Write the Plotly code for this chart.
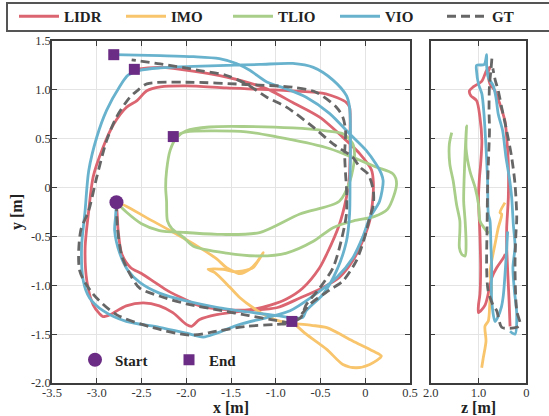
import plotly.graph_objects as go

# ---------------- data: top view (x, y) ----------------
lidr_x = [-2.78, -2.77, -2.76, -2.72, -2.62, -2.50, -2.35, -2.20, -2.00, -1.85, -1.55, -1.29, -1.05, -0.88,
          -0.70, -0.51, -0.43, -0.29, -0.21, -0.18, -0.17, -0.17, -0.175, -0.21, -0.44, -0.81, -1.55, -2.00,
          -2.29, -2.44, -2.55, -2.67, -2.81, -2.93, -3.04, -3.09, -3.13, -3.11, -3.04, -2.97, -2.93, -2.85,
          -2.67, -2.48, -2.30, -2.15, -2.00, -1.94, -1.85, -1.66, -1.33, -0.99, -0.73, -0.51, -0.29, -0.14,
          -0.03, 0.05, 0.086, 0.09, 0.07, -0.06, -0.21, -0.51, -0.81, -1.10, -1.55, -2.29, -2.58]
lidr_y = [-0.15, -0.30, -0.45, -0.68, -0.82, -0.88, -0.97, -1.06, -1.15, -1.21, -1.25, -1.25, -1.20, -1.14,
          -1.03, -0.82, -0.68, -0.38, -0.10, 0.07, 0.30, 0.55, 0.82, 0.87, 0.96, 0.99, 1.02, 1.04,
          1.03, 0.99, 0.89, 0.82, 0.65, 0.41, 0.11, -0.24, -0.62, -0.96, -1.20, -1.29, -1.32, -1.30,
          -1.21, -1.18, -1.21, -1.28, -1.40, -1.42, -1.35, -1.30, -1.26, -1.23, -1.13, -1.04, -0.92, -0.75,
          -0.55, -0.34, -0.10, 0.06, 0.18, 0.345, 0.48, 0.72, 0.87, 1.01, 1.13, 1.23, 1.21]

imo_x = [-2.78, -2.67, -2.44, -2.18, -1.85, -1.66, -1.55, -1.44, -1.40, -1.29, -1.215, -1.14, -1.197, -1.253,
         -1.365, -1.477, -1.588, -1.756, -1.68, -1.513, -1.40, -1.253, -1.104, -0.955, -0.80, -0.60, -0.43,
         -0.14, 0.086, 0.18, 0.05, -0.10, -0.25, -0.43, -0.66, -0.76, -0.82]
imo_y = [-0.15, -0.19, -0.31, -0.44, -0.615, -0.73, -0.82, -0.87, -0.88, -0.836, -0.768, -0.666, -0.751, -0.82,
         -0.853, -0.86, -0.836, -0.836, -0.871, -1.02, -1.127, -1.23, -1.314, -1.366, -1.39, -1.41, -1.434,
         -1.57, -1.673, -1.724, -1.81, -1.844, -1.81, -1.656, -1.50, -1.42, -1.37]

tlio_x = [-2.78, -2.67, -2.50, -2.30, -2.00, -1.60, -1.18, -0.73, -0.29, -0.17, -0.12, -0.14, -0.25, -0.44,
          -0.81, -1.36, -1.74, -2.00, -2.11, -2.18, -2.22, -2.23, -2.22, -2.21, -2.16, -2.03, -1.92, -1.55,
          -1.18, -0.88, -0.58, -0.36, -0.13, 0.09, 0.25, 0.35, 0.31, 0.12, -0.06, -0.25, -0.44, -0.66,
          -0.99, -1.33, -1.70, -2.00, -2.145]
tlio_y = [-0.15, -0.25, -0.37, -0.44, -0.46, -0.48, -0.46, -0.27, -0.14, 0.07, 0.31, 0.45, 0.55, 0.58,
          0.61, 0.625, 0.62, 0.58, 0.51, 0.38, 0.17, 0.0, -0.14, -0.34, -0.42, -0.51, -0.60, -0.67,
          -0.70, -0.67, -0.55, -0.41, -0.34, -0.30, -0.22, 0.04, 0.14, 0.21, 0.28, 0.35, 0.41, 0.46,
          0.52, 0.57, 0.58, 0.57, 0.522]

vio_x = [-2.78, -2.79, -2.80, -2.74, -2.65, -2.52, -2.30, -2.00, -1.63, -1.25, -0.99, -0.70, -0.66, -0.47,
         -0.32, -0.21, -0.175, -0.17, -0.165, -0.175, -0.21, -0.36, -0.58, -0.81, -1.18, -1.55, -1.92, -2.29,
         -2.52, -2.65, -2.74, -2.89, -3.00, -3.09, -3.13, -3.17, -3.15, -3.08, -2.93, -2.67, -2.30, -2.00,
         -1.81, -1.66, -1.40, -1.10, -0.84, -0.60, -0.32, -0.14, -0.03, 0.05, 0.16, 0.20, 0.18, 0.12,
         0.01, -0.175, -0.40, -0.66, -0.88, -1.10, -1.29, -1.44, -1.63, -1.92, -2.29, -2.81]
vio_y = [-0.15, -0.30, -0.44, -0.68, -0.85, -0.97, -1.08, -1.16, -1.23, -1.28, -1.31, -1.33, -1.26, -1.09,
         -0.85, -0.55, -0.27, 0.07, 0.48, 0.82, 0.94, 1.10, 1.23, 1.27, 1.26, 1.25, 1.24, 1.225,
         1.20, 1.15, 1.04, 0.79, 0.515, 0.17, -0.235, -0.615, -0.956, -1.13, -1.26, -1.37, -1.43, -1.49,
         -1.53, -1.49, -1.40, -1.33, -1.26, -1.12, -0.92, -0.72, -0.51, -0.31, -0.14, 0.07, 0.14, 0.24,
         0.38, 0.55, 0.76, 0.925, 1.01, 1.08, 1.20, 1.27, 1.32, 1.34, 1.35, 1.36]

gt_x = [-2.78, -2.77, -2.72, -2.62, -2.52, -2.30, -2.00, -1.60, -1.30, -1.00, -0.83, -0.72, -0.66, -0.51,
        -0.36, -0.27, -0.21, -0.21, -0.22, -0.23, -0.22, -0.25, -0.32, -0.55, -0.81, -1.33, -2.00, -2.44,
        -2.55, -2.63, -2.78, -2.89, -3.00, -3.09, -3.18, -3.19, -3.04, -2.78, -2.37, -1.96, -1.66, -1.33,
        -0.99, -0.81, -0.60, -0.40, -0.25, -0.10, -0.007, 0.049, 0.09, 0.09, 0.03, -0.06, -0.14, -0.36,
        -0.58, -0.88, -1.10, -1.33, -1.55, -1.85, -2.29, -2.61]
gt_y = [-0.15, -0.40, -0.70, -0.90, -1.03, -1.11, -1.19, -1.26, -1.31, -1.36, -1.38, -1.33, -1.20, -1.03,
        -0.82, -0.55, -0.27, 0.0, 0.14, 0.345, 0.584, 0.72, 0.82, 0.976, 1.027, 1.055, 1.078, 1.061,
        0.99, 0.925, 0.72, 0.48, 0.106, -0.235, -0.444, -0.853, -1.09, -1.30, -1.434, -1.51, -1.47, -1.42,
        -1.40, -1.38, -1.18, -1.05, -0.956, -0.75, -0.51, -0.31, -0.18, -0.03, 0.14, 0.21, 0.31, 0.447,
        0.618, 0.823, 0.925, 1.061, 1.147, 1.198, 1.266, 1.307]

# ---------------- data: side view (z, y) ----------------
lidr_sz = [0.34, 0.36, 0.39, 0.41, 0.41, 0.376, 0.376, 0.41, 0.446, 0.55, 0.655, 0.76, 0.80, 0.76, 0.83,
           0.93, 1.11, 1.19, 1.16, 1.04, 0.97, 0.93, 0.955, 0.98, 1.0, 0.97, 0.955, 0.97, 1.0, 1.0,
           0.86, 0.72, 0.62, 0.48, 0.44]
lidr_sy = [-1.42, -1.16, -0.85, -0.60, -0.41, -0.10, 0.24, 0.51, 0.68, 0.85, 0.99, 1.06, 1.18, 1.23, 1.20,
           1.09, 1.03, 0.99, 0.94, 0.89, 0.72, 0.48, 0.24, 0.10, -0.10, -0.48, -0.82, -1.09, -1.20, -1.28,
           -1.20, -0.92, -0.82, -0.72, -0.68]

imo_sz = [0.446, 0.55, 0.515, 0.586, 0.655, 0.724, 0.76, 0.724, 0.76, 0.795, 0.864, 0.843, 0.90, 0.933]
imo_sy = [-0.154, -0.256, -0.273, -0.41, -0.58, -0.751, -0.871, -1.025, -1.161, -1.366, -1.417, -1.571, -1.742, -1.844]

tlio_sz = [1.56, 1.61, 1.60, 1.53, 1.46, 1.39, 1.39, 1.40, 1.35, 1.28, 1.26, 1.28, 1.31, 1.30, 1.28, 1.26,
           1.25, 1.26, 1.18, 1.07, 1.0, 0.97, 0.90, 0.80, 0.74]
tlio_sy = [0.563, 0.444, 0.24, 0.069, -0.17, -0.341, -0.444, -0.615, -0.683, -0.70, -0.58, -0.34, -0.14, 0.10,
           0.35, 0.55, 0.632, 0.40, 0.17, 0.0, -0.17, -0.341, -0.40, -0.46, -0.44]

vio_sz = [0.34, 0.236, 0.20, 0.25, 0.28, 0.236, 0.272, 0.306, 0.355, 0.425, 0.494, 0.586, 0.634, 0.69, 0.795,
          0.83, 0.83, 0.88, 1.04, 1.04, 1.0, 0.93, 0.885, 0.843, 0.81, 0.795, 0.76, 0.74, 0.724, 0.73,
          0.724, 0.655, 0.60, 0.52, 0.48, 0.44, 0.41, 0.39]
vio_sy = [-1.47, -1.50, -1.30, -1.05, -0.82, -0.60, -0.375, -0.10, 0.10, 0.31, 0.58, 0.75, 0.92, 1.04, 1.127,
          1.25, 1.36, 1.26, 1.25, 1.19, 1.06, 0.96, 0.75, 0.41, 0.07, -0.27, -0.34, -0.60, -0.82, -1.0,
          -1.16, -1.37, -1.33, -1.22, -1.10, -0.85, -0.62, -0.45]

gt_sz = [0.72, 0.74, 0.77, 0.78, 0.77, 0.79, 0.81, 0.82, 0.83, 0.80, 0.70, 0.62, 0.515, 0.35, 0.20, 0.13,
         0.20, 0.236, 0.22, 0.20, 0.236, 0.306, 0.41, 0.515, 0.586, 0.65, 0.70]
gt_sy = [1.32, 1.20, 1.05, 0.80, 0.58, 0.30, 0.0, -0.40, -0.82, -1.05, -1.20, -1.26, -1.43, -1.44, -1.43, -1.40,
         -1.26, -0.82, -0.50, -0.31, 0.035, 0.31, 0.58, 0.82, 0.99, 1.10, 1.22]

x_ticks = [-3.5, -3.0, -2.5, -2.0, -1.5, -1.0, -0.5, 0, 0.5]
x_labels = ["-3.5", "-3.0", "-2.5", "-2.0", "-1.5", "-1.0", "-0.5", "0", "0.5"]
y_ticks = [1.5, 1.0, 0.5, 0, -0.5, -1.0, -1.5, -2.0]
y_labels = ["1.5", "1.0", "0.5", "0", "-0.5", "-1.0", "-1.5", "-2.0"]
z_ticks = [2.0, 1.0, 0]
z_labels = ["2.0", "1.0", "0"]

# ---------------- styling ----------------
C_LIDR = "#DB6570"
C_IMO = "#F8C46C"
C_TLIO = "#A8CE8A"
C_VIO = "#68B2CD"
C_GT = "#666666"
C_PUR = "#6A2C84"
SERIF = "Liberation Serif"
LW = 2.8

series = [
    ("LIDR", C_LIDR, None, lidr_x, lidr_y, lidr_sz, lidr_sy),
    ("IMO", C_IMO, None, imo_x, imo_y, imo_sz, imo_sy),
    ("TLIO", C_TLIO, None, tlio_x, tlio_y, tlio_sz, tlio_sy),
    ("VIO", C_VIO, None, vio_x, vio_y, vio_sz, vio_sy),
    ("GT", C_GT, "9px,5px", gt_x, gt_y, gt_sz, gt_sy),
]

fig = go.Figure()
for name, col, dash, xs, ys, zs, zys in series:
    ln = dict(color=col, width=LW, shape="spline", smoothing=0.8)
    if dash:
        ln["dash"] = dash
    fig.add_trace(go.Scatter(x=xs, y=ys, mode="lines", name=name, line=ln,
                             legendgroup=name, showlegend=True, legend="legend",
                             xaxis="x", yaxis="y", hoverinfo="skip"))
    fig.add_trace(go.Scatter(x=zs, y=zys, mode="lines", name=name, line=ln,
                             legendgroup=name, showlegend=False,
                             xaxis="x2", yaxis="y2", hoverinfo="skip"))

# start / end markers from the trajectory data
start_x = [lidr_x[0]]
start_y = [lidr_y[0]]
end_x = [vio_x[-1], lidr_x[-1], tlio_x[-1], imo_x[-1]]
end_y = [vio_y[-1], lidr_y[-1], tlio_y[-1], imo_y[-1]]

fig.add_trace(go.Scatter(x=end_x, y=end_y, mode="markers", name="End",
                         marker=dict(symbol="square", size=11, color=C_PUR),
                         legend="legend2", legendrank=2, xaxis="x", yaxis="y", hoverinfo="skip"))
fig.add_trace(go.Scatter(x=start_x, y=start_y, mode="markers", name="Start",
                         marker=dict(symbol="circle", size=14, color=C_PUR),
                         legend="legend2", legendrank=1, xaxis="x", yaxis="y", hoverinfo="skip"))

W, H = 549, 416
ML, MR, MT, MB = 52, 0, 41, 33
PW = W - ML - MR
PH = H - MT - MB

def px2xp(px):
    return (px - ML) / PW

def py2yp(py):
    return 1 - (py - MT) / PH

axis_common = dict(showline=True, linecolor="#3c3c3c", linewidth=1.5, mirror="ticks",
                   ticks="inside", ticklen=5, tickwidth=1, tickcolor="#3c3c3c",
                   showgrid=True, gridcolor="#e4e4e4", gridwidth=1, zeroline=False,
                   tickfont=dict(family=SERIF, size=12.5, color="#333333"))

title_font = dict(family=SERIF, size=16, color="#222222", weight="bold")

fig.update_layout(
    width=W, height=H,
    margin=dict(l=ML, r=MR, t=MT, b=MB, autoexpand=False),
    paper_bgcolor="white", plot_bgcolor="white",
    xaxis=dict(domain=[0, px2xp(410)], range=[-3.5, 0.5], tickvals=x_ticks, ticktext=x_labels,
               ticklabelstandoff=-3,
               title=dict(text="x [m]", font=title_font, standoff=1), **axis_common),
    yaxis=dict(domain=[0, 1], range=[-2.0, 1.5], tickvals=y_ticks, ticktext=y_labels,
               ticklabelstandoff=-3,
               title=dict(text="y [m]", font=title_font, standoff=4), **axis_common),
    xaxis2=dict(domain=[px2xp(430.7), px2xp(526.3)], range=[2.0, 0], tickvals=z_ticks, ticktext=z_labels,
                ticklabelstandoff=-3,
                anchor="y2", title=dict(text="z [m]", font=title_font, standoff=1), **axis_common),
    yaxis2=dict(domain=[0, 1], range=[-2.0, 1.5], tickvals=y_ticks, showticklabels=False,
                anchor="x2", **axis_common),
    legend=dict(orientation="h", x=px2xp(14), y=py2yp(0), xanchor="left", yanchor="top",
                bgcolor="rgba(0,0,0,0)", borderwidth=0,
                font=dict(family=SERIF, size=15, color="#222222", weight="bold"),
                entrywidth=52, entrywidthmode="pixels", itemwidth=40, traceorder="normal"),
    legend2=dict(orientation="h", x=px2xp(75), y=py2yp(360), xanchor="left", yanchor="middle",
                 bgcolor="rgba(0,0,0,0)", borderwidth=0,
                 font=dict(family=SERIF, size=15, color="#222222", weight="bold"),
                 entrywidth=49, entrywidthmode="pixels", itemsizing="trace"),
    shapes=[dict(type="rect", xref="paper", yref="paper",
                 x0=px2xp(7), x1=px2xp(560), y0=py2yp(31), y1=py2yp(3),
                 line=dict(color="#555555", width=2), fillcolor="rgba(0,0,0,0)", layer="above")],
    showlegend=True,
)

fig.write_html("out.html", config={"displayModeBar": False},
               post_script="document.body.style.margin='0';document.body.style.overflow='hidden';")
